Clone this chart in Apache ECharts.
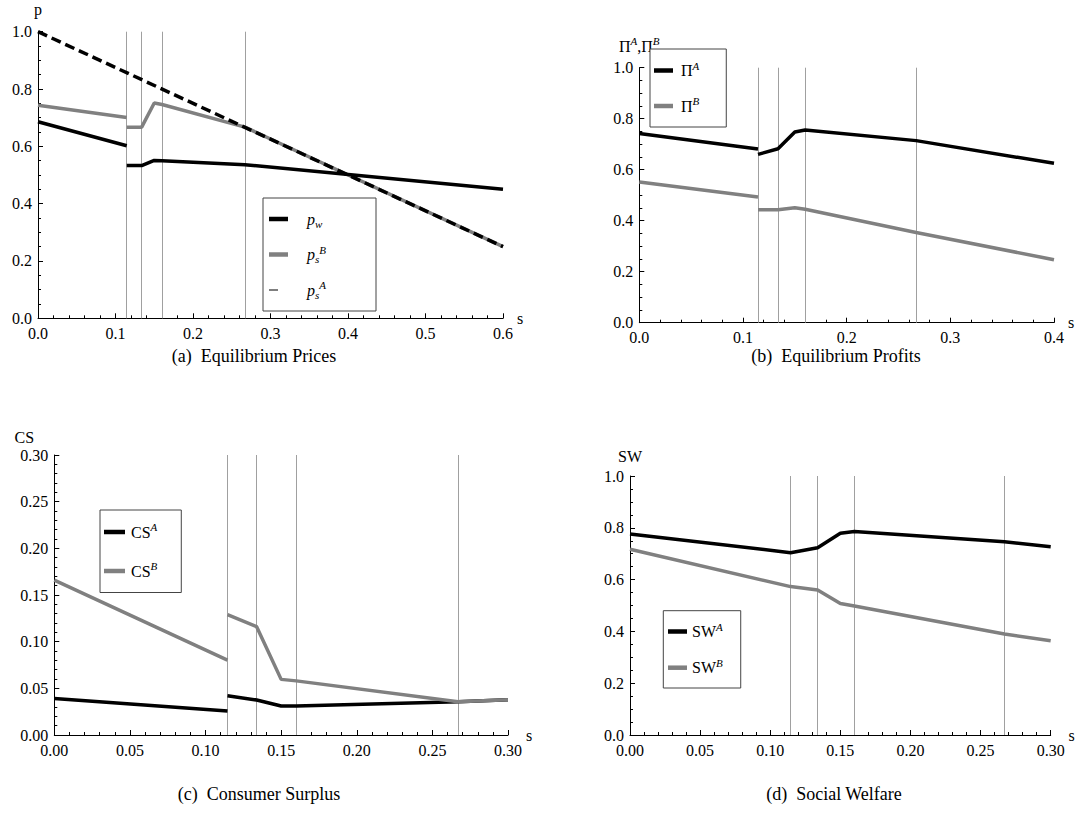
<!DOCTYPE html>
<html>
<head>
<meta charset="utf-8">
<script src="https://cdn.jsdelivr.net/npm/echarts@6/dist/echarts.min.js"></script>
<style>
html,body{margin:0;padding:0;background:#fff;}
#chart{width:1081px;height:814px;}
</style>
</head>
<body>
<div id="chart"></div>
<script>
// ---------------- data ----------------
const thresholds = [0.1145, 0.1338, 0.160, 0.267];

// (a) Equilibrium prices
const pwS = [0, 0.6];
const pw  = [1.0, 0.25];
const priceS = [0, 0.1145, null, 0.1145, 0.1338, 0.15, 0.16, 0.267, 0.6];
const psA    = [0.686, 0.602, null, 0.533, 0.533, 0.551, 0.550, 0.536, 0.450];
const psB    = [0.743, 0.701, null, 0.667, 0.667, 0.751, 0.746, 0.667, 0.250];

// (b) Equilibrium profits
const profitS = [0, 0.1145, null, 0.1145, 0.1338, 0.15, 0.16, 0.267, 0.4];
const piA     = [0.742, 0.681, null, 0.660, 0.682, 0.748, 0.756, 0.714, 0.625];
const piB     = [0.552, 0.493, null, 0.443, 0.443, 0.451, 0.445, 0.354, 0.247];

// (c) Consumer surplus
const csS = [0, 0.1145, null, 0.1145, 0.1338, 0.15, 0.16, 0.267, 0.3];
const csA = [0.039, 0.0257, null, 0.042, 0.0375, 0.031, 0.031, 0.0357, 0.0378];
const csB = [0.166, 0.0803, null, 0.129, 0.116, 0.0596, 0.058, 0.0357, 0.0378];

// (d) Social welfare
const swS = [0, 0.1145, 0.1338, 0.15, 0.16, 0.267, 0.3];
const swA = [0.776, 0.704, 0.723, 0.779, 0.786, 0.746, 0.727];
const swB = [0.717, 0.573, 0.560, 0.508, 0.498, 0.390, 0.364];

const captions = ['(a)  Equilibrium Prices', '(b)  Equilibrium Profits', '(c)  Consumer Surplus', '(d)  Social Welfare'];

// ---------------- styling ----------------
const FONT = "Liberation Serif";
const BLACK = '#000000', GRAY = '#808080', VLINE = '#a0a0a0';
const LW = 3.5;

function pairs(xs, ys) {
  return xs.map((x, i) => (x === null || ys[i] === null) ? ['-', '-'] : [x, ys[i]]);
}

const richBase = {
  i:   {fontStyle: 'italic', fontSize: 16, fontFamily: FONT, color: BLACK},
  n:   {fontSize: 16, fontFamily: FONT, color: BLACK},
  sub: {fontStyle: 'italic', fontSize: 11, fontFamily: FONT, color: BLACK, padding: [9, 0, 0, 0]},
  sup: {fontStyle: 'italic', fontSize: 11, fontFamily: FONT, color: BLACK, padding: [0, 0, 10, 0]},
  sp14: {width: 14, fontSize: 16, fontFamily: FONT},
  sp3: {width: 3, fontSize: 16, fontFamily: FONT},
  sp1: {width: 1, fontSize: 16, fontFamily: FONT}
};

function xAxis(gi, max, interval, dec) {
  return {
    type: 'value', gridIndex: gi, min: 0, max: max, interval: interval,
    name: '{n|s}', nameLocation: 'end', nameGap: 14,
    nameTextStyle: {fontFamily: FONT, fontSize: 16, color: BLACK, verticalAlign: 'middle', rich: richBase},
    axisLine: {show: true, onZero: false, lineStyle: {color: BLACK, width: 1}},
    axisTick: {show: true, inside: true, length: 5, lineStyle: {color: BLACK, width: 1}},
    minorTick: {show: true, splitNumber: 5, length: 3, lineStyle: {color: BLACK, width: 1}},
    splitLine: {show: false}, minorSplitLine: {show: false},
    axisLabel: {formatter: v => '{n|' + v.toFixed(dec) + '}', rich: richBase, margin: 7, color: BLACK, fontFamily: FONT, fontSize: 16}
  };
}
function yAxis(gi, max, interval, dec, minor, name, nameGap, namePad) {
  return {
    type: 'value', gridIndex: gi, min: 0, max: max, interval: interval,
    name: name, nameLocation: 'end', nameGap: nameGap,
    nameTextStyle: {fontFamily: FONT, fontSize: 16, color: BLACK, padding: namePad || 0, rich: richBase},
    axisLine: {show: true, onZero: false, lineStyle: {color: BLACK, width: 1}},
    axisTick: {show: true, inside: true, length: 5, lineStyle: {color: BLACK, width: 1}},
    minorTick: {show: true, splitNumber: minor, length: 3, lineStyle: {color: BLACK, width: 1}},
    splitLine: {show: false}, minorSplitLine: {show: false},
    axisLabel: {formatter: v => '{n|' + v.toFixed(dec) + '}', rich: richBase, margin: 6, color: BLACK, fontFamily: FONT, fontSize: 16}
  };
}
function vlines(gi) {
  return {
    type: 'line', name: 'vl' + gi, xAxisIndex: gi, yAxisIndex: gi, data: [], silent: true,
    markLine: {
      silent: true, z: 1, precision: 5, symbol: ['none', 'none'], animation: false,
      label: {show: false}, emphasis: {disabled: true},
      lineStyle: {color: VLINE, width: 1, type: 'solid'},
      data: thresholds.map(t => ({xAxis: t}))
    }
  };
}
function line(gi, name, data, color, dash) {
  return {
    type: 'line', name: name, xAxisIndex: gi, yAxisIndex: gi, data: data,
    showSymbol: false, symbol: 'none', connectNulls: false, silent: true, z: 3,
    itemStyle: {color: color},
    lineStyle: {color: color, width: LW, type: dash || 'solid', cap: 'butt'},
    emphasis: {disabled: true}
  };
}
const thinIcon = 'path://M0,1.7L9,1.7L9,2.8L0,2.8Z M19,4.5L18.95,4.5L19,4.45Z M0,0L0.05,0L0,0.05Z';

const labels = {
  pw:  '{sp14| }{i|p}{sub|w}',
  psB: '{sp14| }{i|p}{sub|s}{sup|B}',
  psA: '{sp14| }{i|p}{sub|s}{sup|A}',
  PiA: '{sp3| }{n|Π}{sup|A}',
  PiB: '{sp3| }{n|Π}{sup|B}',
  CSA: '{sp1| }{n|CS}{sup|A}',
  CSB: '{sp1| }{n|CS}{sup|B}',
  SWA: '{n|SW}{sup|A}',
  SWB: '{n|SW}{sup|B}'
};
function legend(left, top, pad, gap, iw, items) {
  return {
    show: true, orient: 'vertical', left: left, top: top, padding: pad, itemGap: gap,
    itemWidth: iw, itemHeight: 4.5, selectedMode: false,
    borderColor: '#444', borderWidth: 1, backgroundColor: '#fff',
    itemStyle: {borderWidth: 0},
    textStyle: {fontFamily: FONT, fontSize: 16, color: BLACK, lineHeight: 20, rich: richBase},
    formatter: n => labels[n],
    data: items
  };
}

const option = {
  animation: false,
  backgroundColor: '#ffffff',
  textStyle: {fontFamily: FONT},
  grid: [
    {left: 38, top: 31.7, width: 465, height: 286.6, outerBoundsMode: 'none'},
    {left: 639.3, top: 67.7, width: 414.7, height: 255, outerBoundsMode: 'none'},
    {left: 54.3, top: 455, width: 453.7, height: 280, outerBoundsMode: 'none'},
    {left: 630, top: 476, width: 420.7, height: 259, outerBoundsMode: 'none'}
  ],
  xAxis: [
    xAxis(0, 0.6, 0.1, 1),
    xAxis(1, 0.4, 0.1, 1),
    xAxis(2, 0.3, 0.05, 2),
    xAxis(3, 0.3, 0.05, 2)
  ],
  yAxis: [
    yAxis(0, 1.0, 0.2, 1, 4, '{n|p}', 14),
    yAxis(1, 1.0, 0.2, 1, 4, '{n|Π}{sup|A}{n|,Π}{sup|B}', 11),
    yAxis(2, 0.3, 0.05, 2, 5, '{n|CS}', 10, [0, 60, 0, 0]),
    yAxis(3, 1.0, 0.2, 1, 4, '{n|SW}', 12)
  ],
  legend: [
    legend(263, 198, [11, 50, 11, 6], 15, 19, [
      {name: 'pw', icon: 'rect'}, {name: 'psB', icon: 'rect'}, {name: 'psA', icon: thinIcon}
    ]),
    legend(650, 49, [11, 27, 11, 4], 15, 19, [
      {name: 'PiA', icon: 'rect'}, {name: 'PiB', icon: 'rect'}
    ]),
    legend(100, 510, [11.5, 24, 11.5, 4], 18.5, 21, [
      {name: 'CSA', icon: 'rect'}, {name: 'CSB', icon: 'rect'}
    ]),
    legend(663.3, 610.7, [10.3, 18, 10.3, 4.7], 15.7, 19, [
      {name: 'SWA', icon: 'rect'}, {name: 'SWB', icon: 'rect'}
    ])
  ],
  graphic: [
    {type: 'text', x: 254, y: 356, style: {text: captions[0], fill: BLACK, fontFamily: FONT, fontSize: 18, align: 'center', verticalAlign: 'middle'}},
    {type: 'text', x: 836, y: 356, style: {text: captions[1], fill: BLACK, fontFamily: FONT, fontSize: 18, align: 'center', verticalAlign: 'middle'}},
    {type: 'text', x: 259, y: 794, style: {text: captions[2], fill: BLACK, fontFamily: FONT, fontSize: 18, align: 'center', verticalAlign: 'middle'}},
    {type: 'text', x: 834, y: 794, style: {text: captions[3], fill: BLACK, fontFamily: FONT, fontSize: 18, align: 'center', verticalAlign: 'middle'}}
  ],
  series: [
    vlines(0), vlines(1), vlines(2), vlines(3),
    line(0, 'psB', pairs(priceS, psB), GRAY),
    line(0, 'psA', pairs(priceS, psA), BLACK),
    line(0, 'pw', pairs(pwS, pw), BLACK, [10, 5]),
    line(1, 'PiA', pairs(profitS, piA), BLACK),
    line(1, 'PiB', pairs(profitS, piB), GRAY),
    line(2, 'CSA', pairs(csS, csA), BLACK),
    line(2, 'CSB', pairs(csS, csB), GRAY),
    line(3, 'SWA', pairs(swS, swA), BLACK),
    line(3, 'SWB', pairs(swS, swB), GRAY)
  ]
};

const chart = echarts.init(document.getElementById('chart'), null, {renderer: 'svg', width: 1081, height: 814});
chart.setOption(option);
</script>
</body>
</html>
